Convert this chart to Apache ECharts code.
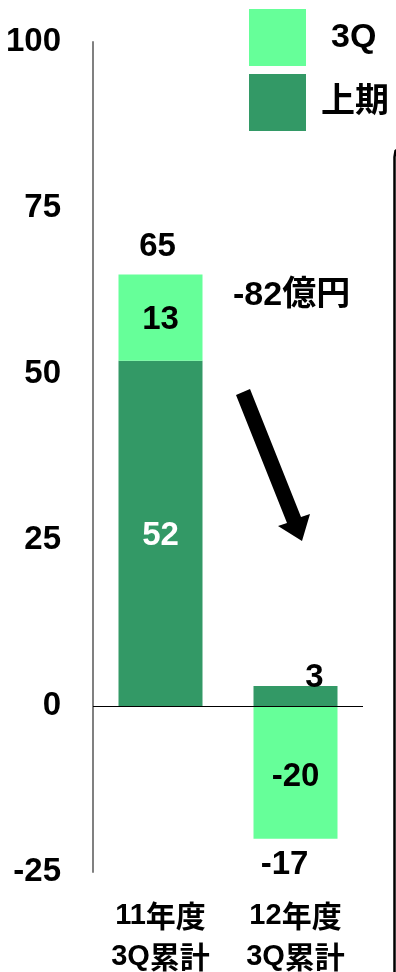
<!DOCTYPE html>
<html>
<head>
<meta charset="utf-8">
<script src="https://cdn.jsdelivr.net/npm/echarts@6/dist/echarts.min.js"></script>
<style>
  html, body { margin: 0; padding: 0; background: #fff; }
  #chart { width: 396px; height: 972px; }
</style>
</head>
<body>
<div id="chart"></div>
<script>
// data
var categories = ['11年度\n3Q累計', '12年度\n3Q累計']
var firstHalf = [52, 3] // 上期
var thirdQ = [13, -20] // 3Q
var yTicks = [-25, 0, 25, 50, 75, 100]
var diffNote = '-82億円'

var FONT = "'Liberation Sans', 'Noto Sans CJK JP', sans-serif"
var DARK = '#339966'
var LIGHT = '#66FF99'

// totals and the end of each stack (for placing the total labels)
var totals = firstHalf.map(function(v, i) { return v + thirdQ[i] })
var stackEnds = firstHalf.map(function(v, i) {
  var pos = 0, neg = 0
  ;[v, thirdQ[i]].forEach(function(x) { if (x >= 0) pos += x; else neg += x })
  return totals[i] >= 0 ? pos : neg
})

var chart = echarts.init(document.getElementById('chart'))

// wrap digits and CJK in separate rich styles
function richWrap(s) {
  return s.split('\n').map(function(line) {
    return line.replace(/([0-9A-Za-z\-]+)|([^0-9A-Za-z\-]+)/g, function(m, a, b) {
      return a ? '{n|' + a + '}' : '{c|' + b + '}'
    })
  }).join('\n')
}

var option = {
  animation: false,
  textStyle: { fontFamily: FONT, fontWeight: 'bold', color: '#000' },
  legend: {
    data: ['3Q', '上期'],
    orient: 'vertical',
    left: 249,
    top: 9,
    padding: 0,
    itemWidth: 57,
    itemHeight: 57,
    itemGap: 8,
    icon: 'rect',
    selectedMode: false,
    formatter: function(name) { return name === '3Q' ? '{q|' + name + '}' : '{h|' + name + '}' },
    textStyle: {
      fontFamily: FONT, fontWeight: 'bold', fontSize: 34, color: '#000',
      rich: {
        q: { fontFamily: FONT, fontWeight: 'bold', fontSize: 34, color: '#000', padding: [0, 0, 0, 20] },
        h: { fontFamily: FONT, fontWeight: 'bold', fontSize: 34, color: '#000', padding: [0, 0, 0, 10] }
      }
    }
  },
  grid: { left: 93, right: 33, top: 42, bottom: 100, containLabel: false },
  xAxis: {
    type: 'category',
    data: categories,
    axisLine: { show: false, onZero: false },
    axisTick: { show: false },
    axisLabel: {
      margin: 23,
      interval: 0,
      formatter: function(v) { return richWrap(v) },
      rich: {
        n: { fontFamily: FONT, fontWeight: 'bold', fontSize: 29, lineHeight: 41, color: '#000' },
        c: { fontFamily: "'Noto Sans CJK JP', sans-serif", fontWeight: 'bold', fontSize: 30, lineHeight: 41, color: '#000' }
      }
    }
  },
  yAxis: {
    type: 'value',
    min: yTicks[0],
    max: yTicks[yTicks.length - 1],
    interval: 25,
    splitLine: { show: false },
    axisTick: { show: false },
    axisLine: { show: true, lineStyle: { color: '#808080', width: 2 } },
    axisLabel: { margin: 32, fontFamily: FONT, fontWeight: 'bold', fontSize: 33, color: '#000' }
  },
  series: [
    {
      name: '上期',
      type: 'bar',
      stack: 'total',
      barWidth: 84,
      itemStyle: { color: DARK },
      data: firstHalf.map(function(v, i) {
        var item = { value: v }
        if (i === 0) {
          item.label = { position: 'inside', offset: [0, 3], color: '#fff' }
        } else {
          item.label = { position: 'top', distance: 0, offset: [19, 8], color: '#000' }
        }
        return item
      }),
      label: { show: true, fontFamily: FONT, fontWeight: 'bold', fontSize: 33 },
      markLine: {
        silent: true,
        symbol: 'none',
        label: { show: false },
        lineStyle: { color: '#000', width: 1, type: 'solid' },
        data: [{ yAxis: 0 }]
      }
    },
    {
      name: '3Q',
      type: 'bar',
      stack: 'total',
      barWidth: 84,
      itemStyle: { color: LIGHT },
      data: thirdQ.map(function(v, i) {
        return { value: v, label: { offset: i === 0 ? [0, 2] : [0, 5] } }
      }),
      label: { show: true, position: 'inside', color: '#000', fontFamily: FONT, fontWeight: 'bold', fontSize: 33 }
    },
    {
      name: 'total',
      type: 'scatter',
      symbolSize: 1,
      silent: true,
      itemStyle: { color: 'rgba(0,0,0,0)', opacity: 1 },
      data: stackEnds.map(function(v, i) {
        var up = totals[i] >= 0
        return {
          value: v,
          label: up
            ? { position: 'top', distance: 10, offset: [-3, 0], color: '#000' }
            : { position: 'bottom', distance: 9, offset: [-11, 0], color: '#000' }
        }
      }),
      label: {
        show: true,
        color: '#000',
        fontFamily: FONT,
        fontWeight: 'bold',
        fontSize: 33,
        formatter: function(p) { return String(totals[p.dataIndex]) }
      }
    }
  ],
  graphic: [
    {
      type: 'text',
      x: 233,
      y: 279,
      style: { text: diffNote, font: 'bold 34px ' + FONT, fill: '#000' }
    },
    {
      // down arrow
      type: 'polygon',
      shape: { points: [[236, 395], [250, 389], [301, 517], [310, 514], [302, 541], [278, 526], [287, 523]] },
      style: { fill: '#000' }
    },
    {
      // right edge of the surrounding box
      type: 'polyline',
      shape: { points: [[394.5, 972], [394.5, 157], [395.5, 151], [399, 148]] },
      style: { fill: null, stroke: '#000', lineWidth: 2.5 }
    }
  ]
}

chart.setOption(option)
</script>
</body>
</html>
